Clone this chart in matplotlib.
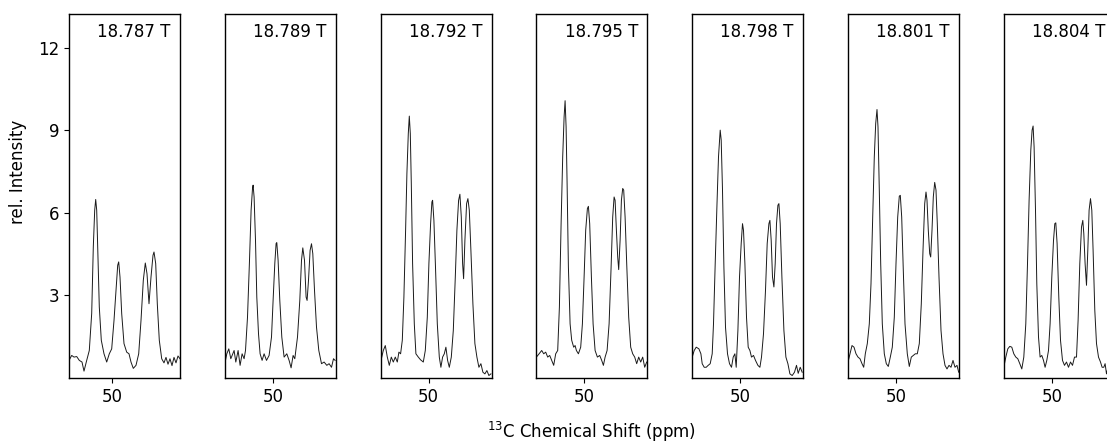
import matplotlib
matplotlib.use("Agg")
import matplotlib.pyplot as plt

# ---------------- data ----------------
fields = ["18.787 T", "18.789 T", "18.792 T", "18.795 T", "18.798 T", "18.801 T", "18.804 T"]
tick_ppm = [50]
ytick_vals = [3, 6, 9, 12]

ppm_1 = [54.30, 54.03, 53.80, 53.53, 53.27, 53.00, 52.80, 52.53, 52.27, 52.03, 51.87, 51.73, 51.63, 51.53,
         51.43, 51.27, 51.07, 50.80, 50.53, 50.27, 50.03, 49.80, 49.60, 49.43, 49.33, 49.20, 49.03, 48.80,
         48.53, 48.30, 48.10, 47.87, 47.60, 47.33, 47.10, 46.87, 46.67, 46.50, 46.30, 46.10, 45.90, 45.80,
         45.63, 45.47, 45.27, 45.03, 44.80, 44.60, 44.40, 44.20, 44.00, 43.80, 43.60, 43.40, 43.20]
int_1 = [0.64, 0.82, 0.76, 0.78, 0.64, 0.58, 0.25, 0.64, 1.0, 2.35, 4.76, 6.1, 6.49, 6.1,
         4.76, 2.58, 1.37, 0.88, 0.58, 0.88, 1.06, 2.09, 3.18, 4.1, 4.22, 3.67, 2.34, 1.25,
         0.94, 0.88, 0.58, 0.35, 0.46, 0.88, 2.09, 3.55, 4.18, 3.79, 2.70, 3.67, 4.46, 4.58,
         4.16, 2.70, 1.37, 0.7, 0.55, 0.75, 0.5, 0.7, 0.45, 0.75, 0.55, 0.8, 0.7]

ppm_2 = [54.80, 54.60, 54.40, 54.20, 54.00, 53.87, 53.70, 53.47, 53.27, 53.07, 52.87, 52.73, 52.53, 52.33,
         52.17, 52.03, 51.97, 51.87, 51.73, 51.60, 51.43, 51.27, 51.07, 50.87, 50.63, 50.37, 50.13, 49.97,
         49.80, 49.67, 49.60, 49.47, 49.30, 49.10, 48.87, 48.60, 48.37, 48.17, 47.97, 47.80, 47.53, 47.30,
         47.13, 47.00, 46.83, 46.67, 46.57, 46.43, 46.27, 46.13, 46.00, 45.83, 45.63, 45.40, 45.13, 44.87,
         44.60, 44.37, 44.13, 43.93, 43.77]
int_2 = [0.52, 0.88, 1.06, 0.70, 0.88, 1.0, 0.58, 1.0, 0.46, 0.88, 0.70, 1.0, 2.21, 4.28,
         6.10, 6.89, 7.01, 6.58, 5.0, 2.94, 1.61, 0.88, 0.64, 0.88, 0.64, 0.82, 1.49, 2.82,
         4.16, 4.89, 4.92, 4.28, 2.82, 1.49, 0.76, 0.88, 0.64, 0.37, 0.82, 0.70, 1.49, 2.82,
         4.28, 4.73, 4.28, 2.94, 2.82, 3.55, 4.64, 4.88, 4.52, 3.19, 1.85, 1.0, 0.52, 0.58,
         0.46, 0.52, 0.39, 0.70, 0.64]

ppm_3 = [54.80, 54.53, 54.33, 54.13, 53.93, 53.73, 53.53, 53.33, 53.13, 52.97, 52.80, 52.63, 52.47, 52.30,
         52.17, 52.03, 51.93, 51.83, 51.73, 51.60, 51.43, 51.27, 51.03, 50.80, 50.53, 50.33, 50.13, 49.97,
         49.80, 49.67, 49.60, 49.47, 49.30, 49.13, 48.93, 48.77, 48.60, 48.43, 48.27, 48.10, 47.93, 47.73,
         47.53, 47.33, 47.17, 47.00, 46.87, 46.73, 46.60, 46.50, 46.37, 46.20, 46.07, 45.93, 45.77, 45.57,
         45.37, 45.17, 44.97, 44.77, 44.57, 44.37, 44.17, 43.97, 43.77]
int_3 = [0.58, 1.0, 1.18, 0.76, 0.46, 0.76, 0.58, 0.76, 0.58, 0.94, 0.88, 1.37, 2.94, 5.37,
         7.43, 8.89, 9.52, 8.89, 7.07, 4.16, 1.97, 0.88, 0.76, 0.66, 0.58, 1.0, 2.21, 4.16,
         5.61, 6.40, 6.46, 5.73, 3.91, 1.97, 0.76, 0.39, 0.76, 0.88, 1.12, 0.64, 0.39, 0.76,
         1.73, 3.67, 5.37, 6.46, 6.68, 5.85, 4.16, 3.61, 5.0, 6.34, 6.52, 6.10, 4.64, 2.70,
         1.25, 0.76, 0.39, 0.52, 0.21, 0.15, 0.27, 0.09, 0.15]

ppm_4 = [54.80, 54.53, 54.27, 54.07, 53.87, 53.67, 53.47, 53.27, 53.07, 52.87, 52.67, 52.50, 52.33, 52.17,
         52.03, 51.93, 51.83, 51.73, 51.60, 51.43, 51.27, 51.07, 50.93, 50.80, 50.60, 50.37, 50.20, 50.03,
         49.87, 49.70, 49.60, 49.47, 49.30, 49.13, 48.93, 48.70, 48.47, 48.27, 48.10, 47.93, 47.73, 47.53,
         47.33, 47.17, 47.03, 46.93, 46.80, 46.67, 46.57, 46.43, 46.30, 46.17, 46.07, 45.93, 45.77, 45.57,
         45.37, 45.17, 44.97, 44.77, 44.57, 44.37, 44.17, 43.97, 43.77]
int_4 = [0.76, 0.88, 1.0, 0.88, 0.94, 0.76, 0.82, 0.64, 0.46, 0.88, 1.0, 2.58, 5.61, 8.04,
         9.49, 10.08, 9.13, 7.07, 4.03, 1.97, 1.37, 1.12, 1.18, 1.0, 0.88, 1.12, 1.97, 3.67,
         5.37, 6.16, 6.24, 5.61, 3.67, 1.97, 1.0, 0.76, 0.82, 0.64, 0.46, 0.76, 1.0, 1.97,
         4.03, 5.85, 6.58, 6.46, 5.37, 4.40, 3.94, 5.0, 6.46, 6.89, 6.83, 5.85, 4.16, 2.21,
         1.12, 0.88, 0.76, 0.52, 0.76, 0.58, 0.76, 0.39, 0.58]

ppm_5 = [54.80, 54.60, 54.40, 54.13, 53.93, 53.80, 53.60, 53.40, 53.20, 53.00, 52.80, 52.67, 52.50, 52.33,
         52.17, 52.00, 51.90, 51.77, 51.63, 51.47, 51.27, 51.07, 50.87, 50.70, 50.53, 50.40, 50.23, 50.07,
         49.90, 49.77, 49.67, 49.53, 49.37, 49.20, 49.03, 48.87, 48.67, 48.47, 48.23, 48.03, 47.87, 47.67,
         47.47, 47.30, 47.13, 47.03, 46.90, 46.77, 46.63, 46.50, 46.37, 46.23, 46.13, 46.00, 45.83, 45.63,
         45.43, 45.23, 45.03, 44.80, 44.57, 44.37, 44.20, 44.00, 43.80]
int_5 = [0.76, 1.0, 1.12, 1.06, 0.88, 0.52, 0.39, 0.39, 0.46, 0.52, 0.88, 1.97, 4.16, 6.22,
         8.04, 9.01, 8.65, 6.83, 4.03, 1.85, 0.88, 0.52, 0.39, 0.76, 0.88, 0.39, 1.73, 3.67,
         4.89, 5.61, 5.37, 4.16, 2.21, 1.12, 1.0, 0.76, 0.82, 0.64, 0.46, 0.39, 0.76, 1.61,
         3.19, 4.89, 5.61, 5.73, 5.0, 3.67, 3.31, 4.16, 5.61, 6.28, 6.34, 5.61, 3.67, 1.73,
         0.76, 0.52, 0.15, 0.09, 0.21, 0.46, 0.17, 0.39, 0.21]

ppm_6 = [54.80, 54.60, 54.40, 54.20, 54.00, 53.80, 53.60, 53.40, 53.23, 53.07, 52.87, 52.67, 52.50, 52.33,
         52.17, 52.03, 51.90, 51.80, 51.67, 51.53, 51.37, 51.17, 50.97, 50.77, 50.57, 50.37, 50.17, 50.00,
         49.83, 49.67, 49.57, 49.43, 49.27, 49.10, 48.87, 48.67, 48.47, 48.27, 48.07, 47.87, 47.67, 47.47,
         47.30, 47.13, 47.00, 46.90, 46.77, 46.63, 46.53, 46.40, 46.27, 46.13, 46.00, 45.87, 45.70, 45.50,
         45.30, 45.10, 44.90, 44.70, 44.50, 44.30, 44.10, 43.90, 43.73]
int_6 = [0.58, 0.88, 1.18, 1.12, 0.88, 0.76, 0.70, 0.52, 0.39, 0.88, 1.25, 1.97, 3.43, 5.85,
         8.04, 9.25, 9.76, 9.13, 6.83, 4.16, 1.97, 0.88, 0.52, 0.42, 0.76, 1.12, 2.21, 4.16,
         5.85, 6.61, 6.64, 5.85, 3.91, 1.97, 0.88, 0.42, 0.76, 0.82, 0.88, 0.88, 1.25, 2.70,
         4.64, 6.34, 6.76, 6.46, 5.37, 4.52, 4.40, 5.37, 6.58, 7.11, 6.83, 5.61, 3.67, 1.73,
         0.88, 0.46, 0.33, 0.46, 0.39, 0.64, 0.39, 0.46, 0.21]

ppm_7 = [54.80, 54.60, 54.40, 54.20, 54.00, 53.80, 53.60, 53.40, 53.20, 53.00, 52.80, 52.60, 52.43, 52.27,
         52.10, 51.97, 51.87, 51.77, 51.63, 51.50, 51.33, 51.17, 51.00, 50.83, 50.67, 50.50, 50.33, 50.17,
         50.00, 49.83, 49.70, 49.60, 49.47, 49.30, 49.13, 48.93, 48.73, 48.53, 48.33, 48.13, 47.93, 47.73,
         47.53, 47.37, 47.20, 47.03, 46.90, 46.80, 46.67, 46.53, 46.40, 46.27, 46.13, 46.00, 45.87, 45.70,
         45.53, 45.33, 45.13, 44.97, 44.80, 44.67, 44.53, 44.30, 44.00, 43.70]
int_7 = [0.39, 0.76, 1.06, 1.15, 1.12, 0.88, 0.76, 0.70, 0.52, 0.33, 0.76, 1.97, 4.16, 6.46,
         8.28, 9.01, 9.16, 8.40, 6.10, 3.43, 1.49, 0.76, 0.82, 0.64, 0.39, 0.64, 1.0, 1.97,
         3.67, 5.0, 5.61, 5.64, 4.89, 2.94, 1.37, 0.64, 0.46, 0.58, 0.39, 0.58, 0.46, 0.76,
         0.76, 2.09, 4.16, 5.49, 5.73, 5.25, 4.16, 3.37, 4.64, 6.10, 6.52, 6.10, 4.64, 2.46,
         1.25, 0.76, 0.58, 0.39, 0.39, 0.52, 0.15, 0.5, 0.4, 0.5]

spectra = [(ppm_1, int_1), (ppm_2, int_2), (ppm_3, int_3), (ppm_4, int_4),
           (ppm_5, int_5), (ppm_6, int_6), (ppm_7, int_7)]

# ---------------- layout ----------------
W, H = 1107, 443
fig = plt.figure(figsize=(W / 100, H / 100), dpi=100)
plt.rcParams['font.family'] = ['DejaVu Sans']

ax_left_px = 69.0
ax_step_px = 155.8
ax_w_px = 111.0
ax_top_px = 13.5
ax_bot_px = 378.0

for i, (name, (xs, ys)) in enumerate(zip(fields, spectra)):
    l = (ax_left_px + i * ax_step_px) / W
    b = (H - ax_bot_px) / H
    ax = fig.add_axes([l, b, ax_w_px / W, (ax_bot_px - ax_top_px) / H])
    ax.plot(xs, ys, color='#1a1a1a', lw=0.7)
    if i == 0:
        ax.set_xlim(54.3, 43.2)
    else:
        ax.set_xlim(54.8, 43.7)
    ax.set_ylim(0, 13.25)
    ax.set_xticks(tick_ppm)
    ax.set_xticklabels([str(t) for t in tick_ppm], fontsize=12)
    if i == 0:
        ax.set_yticks(ytick_vals)
        ax.set_yticklabels([str(t) for t in ytick_vals], fontsize=12)
    else:
        ax.set_yticks([])
    for s in ax.spines.values():
        s.set_linewidth(1.0)
    ax.text(0.915, 0.975, name, transform=ax.transAxes, ha='right', va='top', fontsize=12)

fig.text(18 / W, (H - 172) / H, 'rel. Intensity', rotation=90, ha='center', va='center', fontsize=12)
fig.text(592 / W, (H - 432) / H, r'$^{13}$C Chemical Shift (ppm)', ha='center', va='center', fontsize=12)

fig.savefig('out.png', dpi=100)
